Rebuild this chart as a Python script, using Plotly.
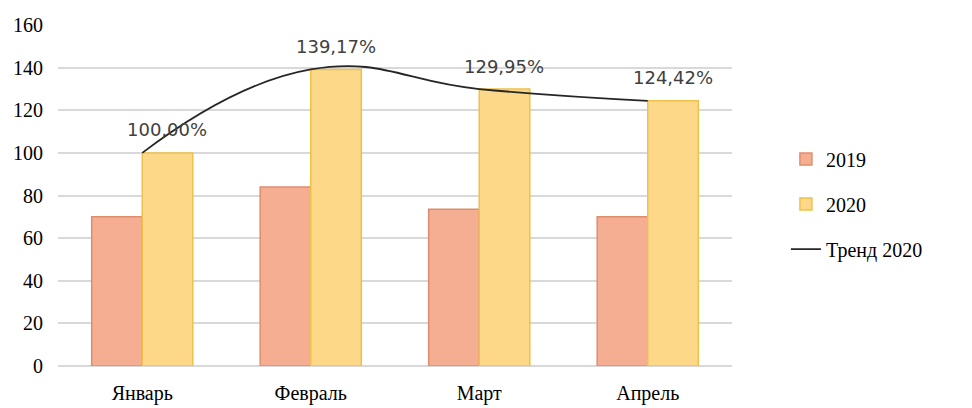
import plotly.graph_objects as go

months = ["Январь", "Февраль", "Март", "Апрель"]
values_2019 = [70, 84, 73.5, 70]
values_2020 = [100, 139.17, 129.95, 124.42]
labels_2020 = ["100,00%", "139,17%", "129,95%", "124,42%"]
y_ticks = [0, 20, 40, 60, 80, 100, 120, 140, 160]

serif = "Liberation Serif"

fig = go.Figure()
fig.add_trace(go.Bar(
    x=months, y=values_2019, name="2019", legendgroup="a",
    marker=dict(color="#F5AE92", line=dict(color="#DE8E6C", width=1.5)),
))
fig.add_trace(go.Bar(
    x=months, y=values_2020, name="2020", legendgroup="b",
    marker=dict(color="#FDD888", line=dict(color="#EEC24A", width=1.5)),
))
fig.add_trace(go.Scatter(
    x=months, y=values_2020, name="Тренд 2020", legendgroup="c",
    mode="lines", line=dict(color="#262626", width=1.8, shape="spline", smoothing=1.3),
))

for m, v, t in zip(months, values_2020, labels_2020):
    fig.add_annotation(
        x=m, y=v, text=t, showarrow=False, xshift=25, yshift=23,
        yanchor="middle",
        font=dict(family="DejaVu Sans", size=18, color="#404040"),
    )

fig.update_layout(
    width=964, height=400,
    margin=dict(l=50, r=240, t=17, b=42, autoexpand=False),
    plot_bgcolor="white", paper_bgcolor="white",
    barmode="group", bargap=0.4, bargroupgap=0,
    showlegend=True,
    legend=dict(
        x=1.08, y=0.475, xanchor="left", yanchor="middle",
        font=dict(family=serif, size=20, color="#000000"),
        traceorder="grouped", tracegroupgap=16,
        bgcolor="rgba(0,0,0,0)",
    ),
    font=dict(family=serif, size=20, color="#000000"),
)
fig.update_xaxes(
    showgrid=False, showline=False, ticks="", automargin=False,
    tickfont=dict(family=serif, size=20, color="#000000"),
    ticklabelstandoff=13,
)
fig.update_yaxes(
    range=[0, 160], tickvals=y_ticks, showgrid=True, gridcolor="#D9D9D9",
    gridwidth=1.5, zeroline=True, zerolinecolor="#D9D9D9", zerolinewidth=1.5,
    showline=False, ticks="", automargin=False,
    tickfont=dict(family=serif, size=20, color="#000000"),
    ticklabelstandoff=14,
)

fig.write_html("out.html")
